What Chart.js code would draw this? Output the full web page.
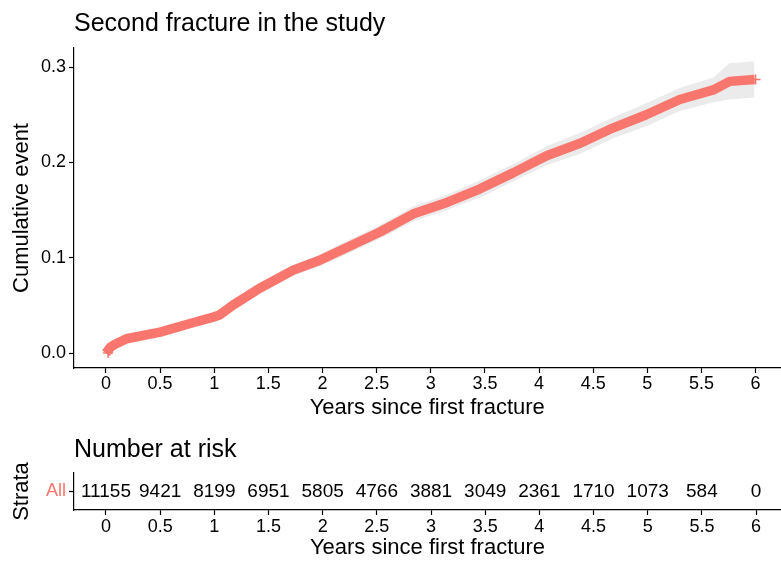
<!DOCTYPE html>
<html>
<head>
<meta charset="utf-8">
<script src="https://cdn.jsdelivr.net/npm/chart.js@4/dist/chart.umd.min.js"></script>
<style>
  body { margin: 0; background: #fff; }
  #wrap { position: relative; width: 781px; height: 561px; overflow: hidden; }
  #survChart { position: absolute; left: 0; top: 0; }
  #riskChart { position: absolute; left: 0; top: 421px; }
</style>
</head>
<body>
<div id="wrap">
  <canvas id="survChart" width="787" height="421"></canvas>
  <canvas id="riskChart" width="781" height="140"></canvas>
</div>
<script>
// Cumulative event curve
var years = [0, 0.04, 0.08, 0.19, 0.5, 0.81, 1.0, 1.05, 1.17, 1.42, 1.73, 1.97, 2.25, 2.53, 2.84, 3.15, 3.45, 3.76, 4.07, 4.38, 4.68, 4.99, 5.30, 5.61, 5.76, 5.99];
var cumEvent = [0, 0.006, 0.009, 0.015, 0.022, 0.032, 0.038, 0.040, 0.050, 0.068, 0.087, 0.097, 0.112, 0.127, 0.146, 0.158, 0.172, 0.189, 0.207, 0.220, 0.236, 0.250, 0.266, 0.276, 0.285, 0.287];
var ciUpper = [0.001, 0.008, 0.011, 0.018, 0.025, 0.036, 0.042, 0.044, 0.055, 0.073, 0.093, 0.103, 0.119, 0.134, 0.154, 0.166, 0.181, 0.198, 0.217, 0.231, 0.247, 0.262, 0.278, 0.289, 0.304, 0.306];
var ciLower = [0.000, 0.004, 0.007, 0.012, 0.019, 0.028, 0.034, 0.036, 0.045, 0.063, 0.081, 0.091, 0.105, 0.120, 0.138, 0.150, 0.163, 0.180, 0.197, 0.209, 0.225, 0.238, 0.254, 0.263, 0.266, 0.268];
var censorYears = [0.02, 6.0];
var censorValues = [0.0, 0.287];

// Number at risk table
var xTicks = [0, 0.5, 1, 1.5, 2, 2.5, 3, 3.5, 4, 4.5, 5, 5.5, 6];
var yTicks = [0, 0.1, 0.2, 0.3];
var riskCounts = [11155, 9421, 8199, 6951, 5805, 4766, 3881, 3049, 2361, 1710, 1073, 584, 0];
var strata = ["All"];

var FONT = "'Liberation Sans', Arial, Helvetica, sans-serif";
var RED = "#F8766D";

function pts(xs, ys) {
  return xs.map(function (x, i) { return { x: x, y: ys[i] }; });
}

function xScale(height, pad) {
  return {
    type: "linear",
    min: -0.295,
    max: 6.23,
    afterFit: function (s) {
      s.height = height;
      s.paddingLeft = 0;
      s.paddingRight = 0;
    },
    afterBuildTicks: function (s) { s.ticks = xTicks.map(function (v) { return { value: v }; }); },
    border: { display: true, color: "#000", width: 1.2 },
    grid: { display: true, drawOnChartArea: false, tickLength: 5, color: "#000", tickWidth: 1.2 },
    ticks: { color: "#000", padding: pad, font: { family: FONT, size: 18 }, callback: function (v) { return String(v); } },
    title: { display: true, text: "Years since first fracture", color: "#000", padding: 0, font: { family: FONT, size: 22 } }
  };
}

Chart.defaults.font.family = FONT;

new Chart(document.getElementById("survChart"), {
  type: "line",
  data: {
    datasets: [
      {
        label: "All",
        data: pts(years, cumEvent),
        borderColor: RED,
        borderWidth: 9.5,
        borderJoinStyle: "round",
        pointRadius: 0,
        fill: false,
        order: 0
      },
      {
        label: "upper",
        data: pts(years, ciUpper),
        borderWidth: 0,
        pointRadius: 0,
        fill: false,
        order: 1
      },
      {
        label: "lower",
        data: pts(years, ciLower),
        borderWidth: 0,
        pointRadius: 0,
        backgroundColor: "#EBEBEB",
        fill: 1,
        order: 2
      },
      {
        type: "scatter",
        label: "censor",
        data: pts(censorYears, censorValues),
        pointStyle: "cross",
        pointRadius: 5,
        borderWidth: 1.5,
        borderColor: RED,
        order: -1
      }
    ]
  },
  options: {
    responsive: false,
    devicePixelRatio: 1,
    animation: false,
    layout: { padding: 0 },
    plugins: {
      legend: { display: false },
      tooltip: { enabled: false },
      title: {
        display: true,
        text: "Second fracture in the study",
        align: "start",
        fullSize: false,
        color: "#000",
        padding: { top: 9, bottom: 9 },
        font: { family: FONT, size: 25, weight: "normal" }
      }
    },
    scales: {
      x: xScale(53, 0),
      y: {
        min: -0.0157,
        max: 0.32,
        afterFit: function (s) { s.width = 74; },
        afterBuildTicks: function (s) { s.ticks = yTicks.map(function (v) { return { value: v }; }); },
        border: { display: true, color: "#000", width: 1.2 },
        grid: { display: true, drawOnChartArea: false, tickLength: 5, color: "#000", tickWidth: 1.2 },
        ticks: { color: "#000", padding: 3, font: { family: FONT, size: 18 }, callback: function (v) { return v.toFixed(1); } },
        title: { display: true, text: "Cumulative event", color: "#000", padding: { top: 9 }, font: { family: FONT, size: 22 } }
      }
    }
  }
});

// draws the risk counts at their time ticks
var riskLabels = {
  id: "riskLabels",
  afterDatasetsDraw: function (chart) {
    var ctx = chart.ctx;
    var xs = chart.scales.x;
    var ys = chart.scales.y;
    var yPix = ys.getPixelForValue(0);
    ctx.save();
    ctx.font = "19px " + FONT;
    ctx.fillStyle = "#000";
    ctx.textAlign = "center";
    ctx.textBaseline = "middle";
    xTicks.forEach(function (t, i) {
      ctx.fillText(String(riskCounts[i]), xs.getPixelForValue(t), yPix);
    });
    ctx.restore();
  }
};

new Chart(document.getElementById("riskChart"), {
  type: "scatter",
  data: {
    labels: strata,
    datasets: [{ data: [], pointRadius: 0 }]
  },
  options: {
    responsive: false,
    devicePixelRatio: 1,
    animation: false,
    layout: { padding: 0 },
    plugins: {
      legend: { display: false },
      tooltip: { enabled: false },
      title: {
        display: true,
        text: "Number at risk",
        align: "start",
        fullSize: false,
        color: "#000",
        padding: { top: 14, bottom: 8 },
        font: { family: FONT, size: 25, weight: "normal" }
      }
    },
    scales: {
      x: xScale(51, 1),
      y: {
        type: "category",
        labels: strata,
        offset: true,
        afterFit: function (s) { s.width = 74; },
        border: { display: true, color: "#000", width: 1.2 },
        grid: { display: true, drawOnChartArea: false, tickLength: 5, color: "#000", tickWidth: 1.2, offset: false },
        ticks: { color: RED, padding: 3, font: { family: FONT, size: 18 } },
        title: { display: true, text: "Strata", color: "#000", padding: { top: 9 }, font: { family: FONT, size: 22 } }
      }
    }
  },
  plugins: [riskLabels]
});
</script>
</body>
</html>
